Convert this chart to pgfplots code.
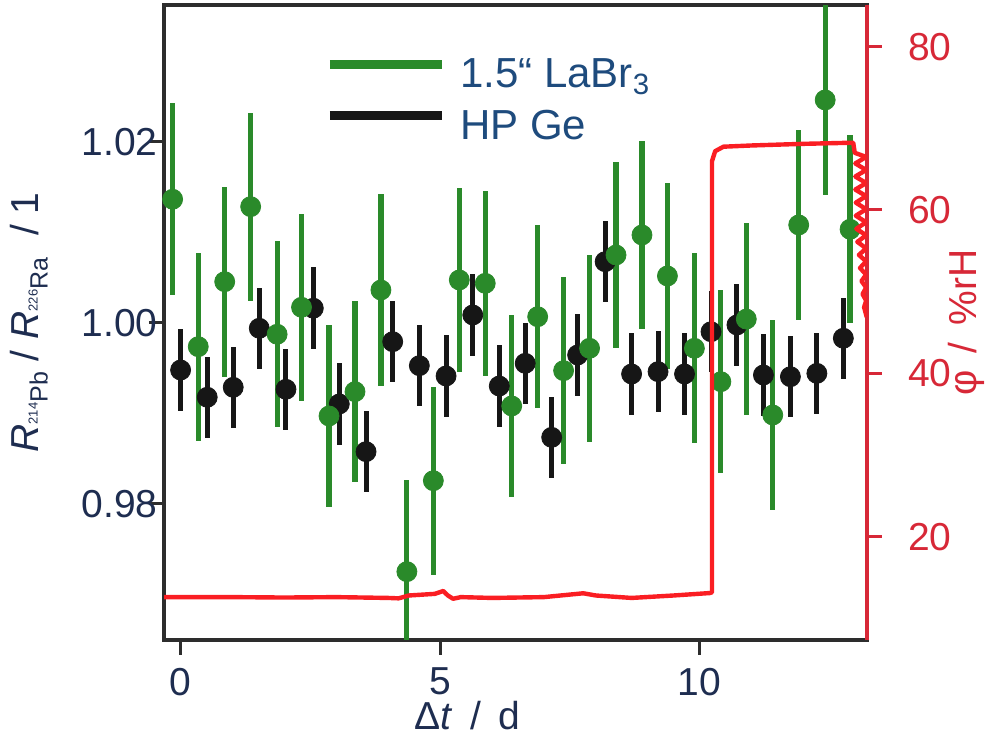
\documentclass[border=0pt]{standalone}
\usepackage{fontspec}
\setmainfont{Liberation Sans}
\usepackage{pgfplots}
\pgfplotsset{compat=1.18}
\definecolor{grn}{RGB}{42,138,42}
\definecolor{blk}{RGB}{22,22,22}
\definecolor{redl}{RGB}{250,30,35}
\definecolor{reda}{RGB}{215,40,55}
\definecolor{navy}{RGB}{30,45,80}
\definecolor{legblue}{RGB}{30,75,125}
\definecolor{axgray}{RGB}{45,45,45}
\newcommand{\iso}[2]{\raisebox{-4.5pt}{\fontsize{6.5}{6.5}\selectfont\raisebox{5pt}{#1}\fontsize{12.5}{12.5}\selectfont #2}}
\newcommand{\tfont}{\fontsize{19.5}{20}\selectfont}
\begin{document}
\begin{tikzpicture}
\path[use as bounding box] (-82pt,-49.5pt) rectangle (413.5pt,320pt);
\begin{axis}[
  at={(0pt,0pt)}, anchor=south west,
  scale only axis, width=351.35pt, height=317.5pt,
  xmin=-0.32, xmax=13.22, ymin=0.96494, ymax=1.0351,
  xtick={0,5,10}, ytick={0.98,1.00,1.02},
  xtick pos=bottom, ytick pos=left,
  tick align=outside, major tick length=7.5pt,
  every tick/.style={axgray, line width=1.5pt},
  axis line style={axgray, line width=2pt},
  /pgf/number format/assume math mode=true,
  yticklabel style={font=\tfont, text=navy, inner sep=0pt, anchor=east, xshift=4.4pt,
    /pgf/number format/fixed, /pgf/number format/fixed zerofill, /pgf/number format/precision=2},
  xticklabel style={font=\tfont, text=navy, yshift=-3pt},
  label style={font=\tfont, text=navy},
  xlabel={Δ\textit{t}\, /\, d},
  xlabel style={at={(rel axis cs:0.432,0)}, anchor=base, yshift=-45pt, inner sep=0pt},
  ylabel={\textit{R}\iso{214}{Pb} / \textit{R}\iso{226}{Ra}\ \ / 1},
  ylabel style={at={(axis description cs:-0.192,0.5)}, anchor=center},
  legend style={at={(rel axis cs:0.229,0.922)}, anchor=north west, draw=none, fill=none,
    font=\fontsize{21}{24}\selectfont, text=legblue, inner sep=0pt, row sep=5.5pt,
    /tikz/every even column/.append style={column sep=15pt}},
  legend cell align=left,
]
\addlegendimage{legend image code/.code={\draw[grn, line width=4.5pt] (0pt,5pt) -- (56pt,5pt); \path (63pt,5pt);}}
\addlegendentry{1.5“ LaBr\textsubscript{3}}
\addlegendimage{legend image code/.code={\draw[blk, line width=4.5pt] (0pt,5pt) -- (56pt,5pt); \path (63pt,5pt);}}
\addlegendentry{HP Ge}
\addplot[only marks, mark=*, mark size=5pt, color=blk, mark options={draw=blk, fill=blk},
  error bars/.cd, y dir=both, y explicit, error mark=none,
  error bar style={line width=2.5pt, color=blk}]
  table[x=x, y=y, y error=e] {
x y e
0.00 0.99477 0.0045
0.513 0.99176 0.0045
1.014 0.99286 0.0045
1.516 0.99938 0.0045
2.03 0.99264 0.0045
2.557 1.0016 0.0045
3.058 0.99102 0.0045
3.573 0.98575 0.0045
4.087 0.9979 0.0045
4.60 0.99525 0.0045
5.115 0.99411 0.0045
5.63 1.00085 0.0045
6.14 0.9930 0.0045
6.64 0.99551 0.0045
7.15 0.98733 0.0045
7.65 0.99643 0.0045
8.18 1.00674 0.0045
8.69 0.99433 0.0045
9.20 0.99459 0.0045
9.71 0.99433 0.0045
10.22 0.9990 0.0045
10.72 0.99975 0.0045
11.23 0.99422 0.0045
11.75 0.99403 0.0045
12.26 0.9944 0.0045
12.77 0.99828 0.0045
13.28 0.99577 0.0045
};
\addplot[only marks, mark=*, mark size=5pt, color=grn, mark options={draw=grn, fill=grn},
  error bars/.cd, y dir=both, y explicit, error mark=none,
  error bar style={line width=2.6pt, color=grn}]
  table[x=x, y=y, y error=e] {
x y e
-0.154 1.01364 0.0106
0.34 0.99735 0.0104
0.85 1.00453 0.0105
1.35 1.01282 0.0104
1.86 0.99872 0.0103
2.33 1.0017 0.0103
2.86 0.98969 0.0101
3.36 0.99238 0.0100
3.86 1.00361 0.0106
4.36 0.97249 0.0101
4.87 0.98254 0.0104
5.37 1.00472 0.0102
5.87 1.00435 0.0102
6.38 0.9908 0.0101
6.88 1.00066 0.0101
7.38 0.9947 0.0103
7.88 0.99717 0.0103
8.39 1.00748 0.0103
8.89 1.00969 0.0104
9.38 1.00516 0.0103
9.90 0.99717 0.0105
10.41 0.99348 0.0101
10.90 1.0004 0.0106
11.41 0.9898 0.0105
11.91 1.0108 0.0105
12.42 1.02461 0.0105
12.90 1.01032 0.0104
};
\end{axis}
\begin{axis}[
  at={(0pt,0pt)}, anchor=south west,
  scale only axis, width=351.35pt, height=317.5pt,
  xmin=-0.32, xmax=13.22, ymin=7.35, ymax=85.1,
  axis x line=none, axis y line*=right,
  ytick={20,40,60,80},
  tick align=outside, major tick length=7.5pt,
  every tick/.style={reda, line width=1.5pt},
  axis line style={reda, line width=2pt, -},
  /pgf/number format/assume math mode=true,
  yticklabel style={font=\tfont, text=reda, inner sep=0pt, anchor=west, xshift=13pt},
  label style={font=\tfont, text=reda},
  ylabel={φ\, /\, \%rH},
  ylabel style={at={(axis description cs:1.1423,0.5)}, anchor=center},
]
\addplot[redl, line width=2.2pt, line join=round] coordinates {
(-0.32,12.6) (1,12.6) (2,12.55) (3,12.6) (4.0,12.5) (4.2,12.45) (4.4,12.8) (4.9,13.0)
(5.06,13.35) (5.15,12.8) (5.25,12.4) (5.4,12.6) (6.0,12.5) (7.0,12.6) (7.76,13.07)
(8.0,12.8) (8.69,12.5) (9.5,12.8) (10.2,13.1) (10.24,13.2) (10.24,66.0) (10.3,67.2)
(10.46,67.75) (11,67.9) (12,68.1) (12.96,68.24) (12.99,67.0) (13.21,66.5) (13.0,65.7)
(13.21,64.9) (13.0,64.1) (13.21,63.3) (13.0,62.5) (13.21,61.7) (13.01,60.9) (13.21,60.1)
(13.01,59.3) (13.21,58.5) (13.02,57.7) (13.21,56.9) (13.04,56.1) (13.21,55.3) (13.07,54.5)
(13.21,53.7) (13.09,52.9) (13.21,52.1) (13.12,51.3) (13.21,50.5) (13.14,49.7) (13.21,48.9)
(13.17,48.1) (13.22,46.9)
};
\end{axis}
\end{tikzpicture}
\end{document}
